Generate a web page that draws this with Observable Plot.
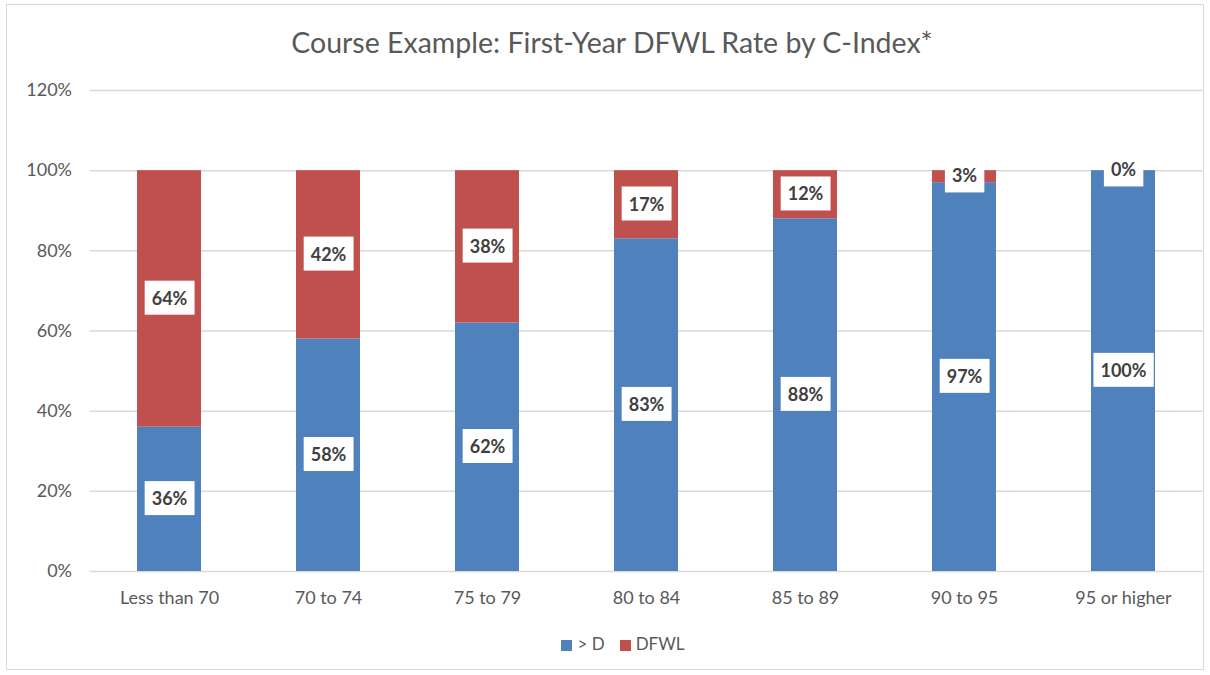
<!DOCTYPE html>
<html>
<head>
<meta charset="utf-8">
<script src="https://cdn.jsdelivr.net/npm/d3@7"></script>
<script src="https://cdn.jsdelivr.net/npm/@observablehq/plot@0.6"></script>
<style>
  html, body { margin: 0; padding: 0; background: #fff; }
  body { width: 1210px; height: 675px; position: relative; overflow: hidden; font-family: Lato, "Open Sans", sans-serif; }
  #frame { position: absolute; left: 6px; top: 4px; width: 1198px; height: 666px; border: 1px solid #d9d9d9; box-sizing: border-box; }
  #chart { position: absolute; left: 0; top: 0; width: 1210px; }
  #title { height: 70px; box-sizing: border-box; padding-top: 26px; line-height: 32px; text-align: center; font-size: 28.5px; color: #595959; padding-left: 14px; }
  #legend { height: 26px; display: flex; justify-content: center; align-items: center; gap: 15px; font-size: 17px; color: #595959; padding-left: 36px; }
  .sw { display: inline-block; width: 11px; height: 11px; margin-right: 5px; vertical-align: -1px; }
</style>
</head>
<body>
<div id="frame"></div>
<div id="chart">
  <div id="title">Course Example: First-Year DFWL Rate by C-Index*</div>
  <div id="plot"></div>
  <div id="legend"></div>
</div>
<script>
const categories = ["Less than 70", "70 to 74", "75 to 79", "80 to 84", "85 to 89", "90 to 95", "95 or higher"];
const seriesNames = ["> D", "DFWL"];
const passValues = [36, 58, 62, 83, 88, 97, 100];
const dfwlValues = [64, 42, 38, 17, 12, 3, 0];
const seriesColors = ["#4F81BD", "#C0504D"];
const yTicks = [0, 20, 40, 60, 80, 100, 120];

const data = [];
categories.forEach((c, i) => {
  data.push({cat: c, series: seriesNames[0], value: passValues[i]});
  data.push({cat: c, series: seriesNames[1], value: dfwlValues[i]});
});

const plot = Plot.plot({
  width: 1210,
  height: 560,
  marginTop: 20,
  marginBottom: 59,
  marginLeft: 89.5,
  marginRight: 7.5,
  style: {fontFamily: "Lato, 'Open Sans', sans-serif", fontSize: "18px", color: "#595959", background: "transparent"},
  x: {domain: categories, paddingInner: 0.6, paddingOuter: 0.3, label: null, tickSize: 0, tickPadding: 20},
  y: {domain: [0, 120], ticks: yTicks, tickFormat: d => d + "%", label: null, tickSize: 0, tickPadding: 18},
  color: {domain: seriesNames, range: seriesColors},
  marks: [
    Plot.ruleY(yTicks, {stroke: "#d9d9d9", strokeWidth: 1.5}),
    Plot.barY(data, {x: "cat", y: "value", fill: "series", order: seriesNames}),
    Plot.text(data, Plot.stackY({x: "cat", y: "value", z: "series", order: seriesNames,
      text: d => d.value + "%", fill: "#404040", fontWeight: "bold", fontSize: 18, className: "lbl"}))
  ]
});
document.getElementById("plot").appendChild(plot);

// white boxes behind data labels
const ns = "http://www.w3.org/2000/svg";
plot.querySelectorAll("g.lbl text, .lbl text").forEach(t => {
  const b = t.getBBox();
  const r = document.createElementNS(ns, "rect");
  const w = b.width + 14, h = 34;
  r.setAttribute("x", b.x + b.width / 2 - w / 2);
  r.setAttribute("y", b.y + b.height / 2 - h / 2);
  r.setAttribute("width", w);
  r.setAttribute("height", h);
  r.setAttribute("fill", "#fff");
  const tr = t.getAttribute("transform");
  if (tr) r.setAttribute("transform", tr);
  t.parentNode.insertBefore(r, t);
});

const legend = document.getElementById("legend");
seriesNames.forEach((s, i) => {
  const item = document.createElement("span");
  item.innerHTML = `<span class="sw" style="background:${seriesColors[i]}"></span>`;
  item.appendChild(document.createTextNode(s));
  legend.appendChild(item);
});
</script>
</body>
</html>
